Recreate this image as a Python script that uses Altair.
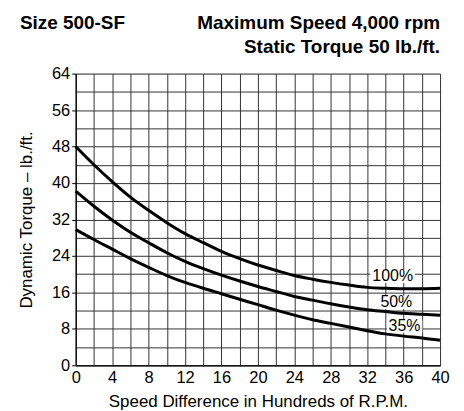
import altair as alt
import pandas as pd

# ---- data ----
speed = [0, 2, 4, 6, 8, 10, 12, 14, 16, 18, 20, 22, 24, 26, 28, 30, 32, 34, 36, 38, 40]
torque_100 = [48.0, 44.0, 40.3, 36.9, 34.0, 31.3, 28.9, 26.9, 25.0, 23.4, 22.0, 20.8,
              19.7, 18.9, 18.2, 17.6, 17.1, 16.9, 16.8, 16.8, 16.9]
torque_50 = [38.2, 34.9, 31.9, 29.2, 26.9, 24.7, 22.8, 21.2, 19.8, 18.5, 17.3, 16.2,
             15.1, 14.3, 13.5, 12.8, 12.2, 11.8, 11.4, 11.2, 11.0]
torque_35 = [29.8, 27.6, 25.5, 23.4, 21.5, 19.7, 18.2, 16.9, 15.7, 14.5, 13.3, 12.1,
             11.0, 10.0, 9.2, 8.4, 7.6, 6.9, 6.4, 6.0, 5.5]
curve_names = ["100%", "50%", "35%"]
label_x = [34.8, 35.2, 36.1]
label_y = [19.5, 13.8, 8.6]
title_left = "Size 500-SF"
title_right_1 = "Maximum Speed 4,000 rpm"
title_right_2 = "Static Torque 50 lb./ft."
x_title = "Speed Difference in Hundreds of R.P.M."
y_title = "Dynamic Torque \u2013 lb./ft."

rows = []
for name, vals in zip(curve_names, [torque_100, torque_50, torque_35]):
    for s, t in zip(speed, vals):
        rows.append({"speed": s, "torque": t, "curve": name})
df = pd.DataFrame(rows)
lab = pd.DataFrame({"label": curve_names, "x": label_x, "y": label_y})

FONT = "Liberation Sans"
xscale = alt.Scale(domain=[0, 40], nice=False, zero=False)
yscale = alt.Scale(domain=[0, 64], nice=False, zero=False)

xaxis = alt.Axis(
    values=list(range(0, 41, 2)), tickCount=100, format="d",
    labelExpr="datum.value % 4 == 0 ? datum.label : ''",
    grid=True, gridColor="#333333", gridWidth=1, gridOpacity=1,
    ticks=False, labelPadding=4, labelFontSize=16.5, labelFont=FONT, labelColor="black",
    labelFlush=False, labelOverlap=False,
    title=x_title, titleFont=FONT, titleFontSize=17, titleFontWeight="normal",
    titleColor="black", titlePadding=8,
    domainColor="black", domainWidth=1.2,
)
yaxis = alt.Axis(
    values=list(range(0, 65, 4)), tickCount=100, format="d",
    labelExpr="datum.value % 8 == 0 ? datum.label : ''",
    grid=True, gridColor="#333333", gridWidth=1, gridOpacity=1,
    tickSize=4, tickColor="black",
    tickOpacity={"condition": {"test": "datum.value % 8 == 0", "value": 1}, "value": 0},
    labelPadding=2, labelFontSize=16.5, labelFont=FONT, labelColor="black",
    labelFlush=False, labelOverlap=False,
    title=y_title, titleFont=FONT, titleFontSize=17, titleFontWeight="normal",
    titleColor="black", titlePadding=16,
    domainColor="black", domainWidth=1.2,
)

lines = alt.Chart(df).mark_line(color="black", strokeWidth=3, interpolate="monotone").encode(
    x=alt.X("speed:Q", scale=xscale, axis=xaxis),
    y=alt.Y("torque:Q", scale=yscale, axis=yaxis),
    detail="curve:N",
)

boxes = alt.Chart(lab).transform_calculate(
    xa="datum.x - (0.5*length(datum.label) + 0.45)",
    xb="datum.x + (0.5*length(datum.label) + 0.45)",
    ya="datum.y - 1.45",
    yb="datum.y + 1.45",
).mark_rect(color="white", opacity=1).encode(
    x=alt.X("xa:Q", scale=xscale, axis=xaxis), x2="xb:Q",
    y=alt.Y("ya:Q", scale=yscale, axis=yaxis), y2="yb:Q",
)

texts = alt.Chart(lab).mark_text(fontSize=16, font=FONT, color="black").encode(
    x=alt.X("x:Q", scale=xscale, axis=xaxis),
    y=alt.Y("y:Q", scale=yscale, axis=yaxis),
    text="label:N",
)

tdf = pd.DataFrame({"t": [title_left]})
left_title = alt.Chart(tdf).mark_text(
    font=FONT, fontSize=19, fontWeight="bold", color="black", align="left", baseline="alphabetic"
).encode(text="t:N", x=alt.value(-56), y=alt.value(-45))

r1 = alt.Chart(pd.DataFrame({"t": [title_right_1]})).mark_text(
    font=FONT, fontSize=19, fontWeight="bold", color="black", align="right", baseline="alphabetic"
).encode(text="t:N", x=alt.value(366), y=alt.value(-45))

r2 = alt.Chart(pd.DataFrame({"t": [title_right_2]})).mark_text(
    font=FONT, fontSize=19, fontWeight="bold", color="black", align="right", baseline="alphabetic"
).encode(text="t:N", x=alt.value(366), y=alt.value(-20.5))

chart = alt.layer(lines, boxes, texts, left_title, r1, r2).properties(
    width=366, height=293,
    autosize=alt.AutoSizeParams(type="none"),
    padding={"left": 68, "top": 65, "right": 16, "bottom": 45},
).configure_view(stroke="black", strokeWidth=1.2).configure(background="white")

chart.save("out.html", embed_options={"renderer": "svg", "actions": False})
